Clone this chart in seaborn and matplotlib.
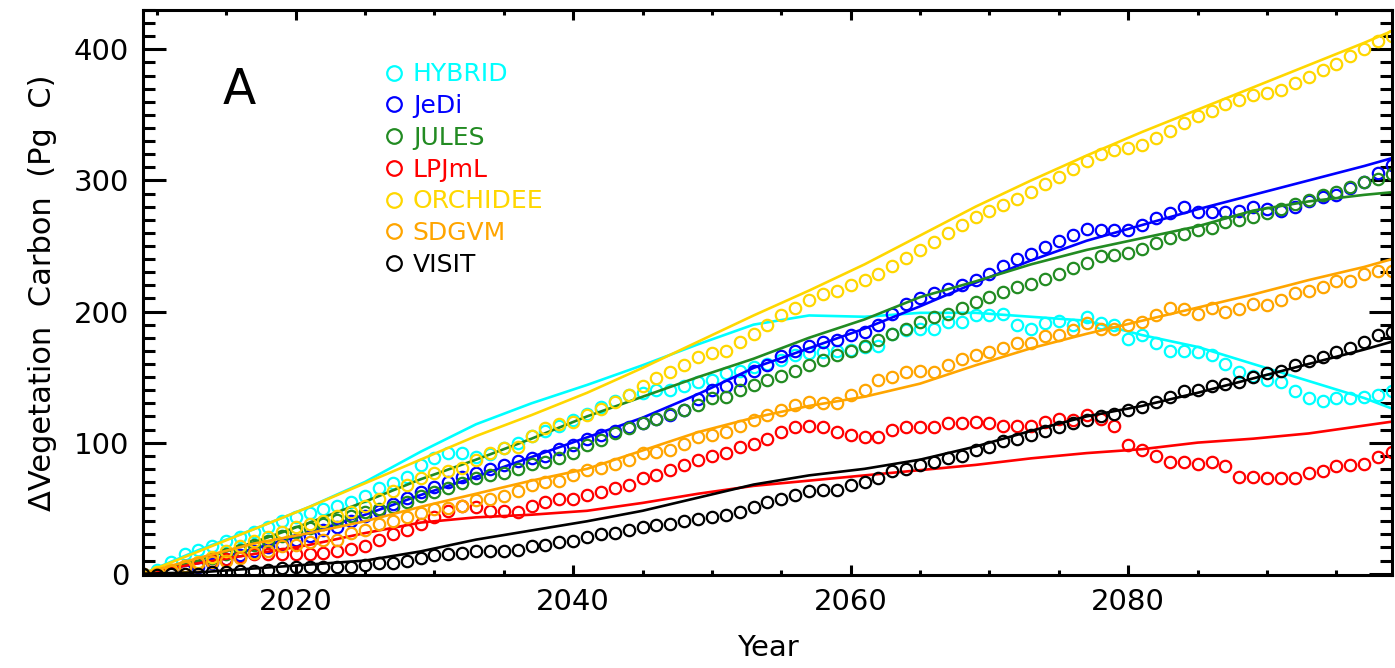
import numpy as np
import pandas as pd
import matplotlib
matplotlib.use("Agg")
import matplotlib.pyplot as plt
from matplotlib.lines import Line2D
from matplotlib.ticker import MultipleLocator
import seaborn as sns

# ---------------- data ----------------
years = list(range(2009, 2100))
line_years = [2009, 2013, 2017, 2021, 2025, 2029, 2033, 2037, 2041, 2045, 2049,
              2053, 2057, 2061, 2065, 2069, 2073, 2077, 2081, 2085, 2089, 2093,
              2097, 2099]

models = ["HYBRID", "JeDi", "JULES", "LPJmL", "ORCHIDEE", "SDGVM", "VISIT"]
colors = ["#00FFFF", "#0000FF", "#228B22", "#FF0000", "#FFD700", "#FFA500", "#000000"]

hybrid_pts = [0, 3, 9, 15, 18, 21, 25, 28, 32, 36, 40,
              43, 46, 49, 52, 55, 59, 65, 69, 74, 83,
              88, 92, 92, 89, 91, 96, 100, 105, 109, 113,
              117, 122, 127, 132, 136, 138, 140, 140, 143, 146,
              148, 153, 155, 158, 160, 163, 167, 168, 169, 170,
              171, 173, 174, 183, 186, 187, 187, 192, 192, 197,
              197, 198, 190, 187, 191, 193, 190, 196, 191, 190,
              179, 182, 176, 170, 170, 169, 167, 160, 154, 151,
              148, 146, 139, 134, 132, 134, 134, 135, 136, 139]
jedi_pts = [0, 0, 1, 3, 5, 8, 11, 14, 17, 20, 23,
            26, 29, 33, 36, 40, 44, 48, 53, 58, 62,
            66, 70, 74, 77, 80, 83, 86, 88, 90, 95,
            98, 103, 106, 109, 112, 115, 118, 121, 125, 133,
            140, 143, 148, 155, 159, 166, 170, 174, 177, 178,
            182, 184, 190, 198, 206, 210, 214, 217, 220, 224,
            229, 235, 240, 244, 249, 254, 258, 263, 262, 262,
            262, 266, 271, 275, 280, 276, 276, 276, 277, 280,
            278, 277, 280, 284, 287, 289, 294, 299, 306, 312]
jules_pts = [0, 0, 2, 5, 8, 12, 15, 18, 22, 25, 29,
             32, 35, 38, 41, 44, 47, 49, 51, 55, 59,
             62, 65, 69, 73, 75, 77, 80, 84, 85, 88,
             92, 98, 102, 107, 111, 115, 118, 122, 125, 129,
             134, 135, 140, 144, 148, 151, 155, 159, 163, 167,
             170, 174, 178, 183, 187, 192, 196, 198, 203, 207,
             211, 215, 219, 221, 225, 229, 233, 237, 242, 243,
             245, 248, 252, 256, 259, 262, 264, 268, 270, 272,
             275, 278, 282, 285, 289, 291, 295, 299, 301, 305]
lpjml_pts = [0, 0, 3, 6, 8, 10, 11, 13, 15, 15, 15,
             15, 15, 16, 17, 19, 21, 26, 30, 33, 38,
             43, 48, 52, 51, 48, 48, 47, 52, 55, 57,
             57, 60, 62, 65, 68, 73, 75, 79, 83, 87,
             90, 92, 97, 99, 103, 108, 112, 113, 112, 108,
             106, 104, 104, 110, 112, 112, 112, 115, 115, 116,
             115, 113, 113, 113, 116, 118, 117, 121, 118, 113,
             98, 94, 90, 85, 85, 84, 85, 82, 74, 74,
             73, 73, 73, 77, 78, 82, 83, 84, 89, 93]
orchidee_pts = [0, 1, 3, 6, 9, 13, 17, 21, 25, 28, 32,
                36, 38, 40, 44, 47, 52, 57, 63, 68, 73,
                77, 78, 81, 87, 92, 96, 97, 105, 111, 114,
                116, 121, 126, 131, 136, 143, 149, 154, 159, 165,
                168, 170, 177, 183, 190, 197, 203, 209, 213, 216,
                220, 224, 229, 235, 241, 247, 253, 260, 266, 272,
                277, 281, 286, 291, 297, 303, 309, 315, 320, 323,
                325, 327, 332, 338, 344, 349, 353, 358, 361, 365,
                367, 369, 374, 379, 384, 389, 395, 400, 406, 410]
sdgvm_pts = [0, 0, 2, 5, 8, 9, 10, 12, 16, 17, 21,
             22, 24, 26, 26, 31, 33, 38, 40, 43, 46,
             49, 50, 52, 56, 57, 59, 63, 68, 70, 71,
             75, 79, 81, 84, 87, 92, 93, 94, 99, 104,
             106, 108, 113, 117, 121, 125, 129, 131, 130, 130,
             136, 140, 148, 150, 154, 155, 154, 159, 164, 167,
             169, 172, 176, 176, 181, 182, 186, 191, 187, 187,
             190, 192, 197, 203, 202, 198, 203, 200, 202, 206,
             205, 209, 214, 216, 219, 223, 223, 229, 231, 231]
visit_pts = [0, -1, 0, 0, 0, 1, 1, 2, 2, 3, 4,
             5, 5, 5, 5, 5, 7, 8, 8, 10, 12,
             14, 15, 16, 17, 17, 17, 18, 21, 22, 24,
             25, 28, 30, 31, 33, 36, 37, 38, 40, 42,
             43, 45, 47, 51, 55, 57, 60, 63, 64, 64,
             68, 70, 73, 78, 80, 83, 85, 88, 90, 94,
             97, 101, 103, 106, 109, 112, 115, 117, 120, 122,
             125, 127, 131, 135, 139, 140, 143, 145, 146, 150,
             153, 155, 159, 162, 165, 169, 172, 177, 182, 184]

hybrid_line = [0, 18, 34, 51, 70, 93, 114, 130, 144, 159, 175, 190, 197, 196,
               199, 199, 196, 193, 182, 173, 160, 147, 134, 126]
jedi_line = [0, 8, 19, 31, 45, 60, 74, 89, 104, 119, 137, 157, 172, 187,
             204, 222, 239, 254, 266, 278, 289, 300, 311, 317]
jules_line = [0, 10, 24, 39, 55, 72, 87, 103, 120, 135, 150, 164, 180, 194,
              211, 223, 236, 247, 256, 265, 277, 284, 289, 291]
lpjml_line = [0, 8, 15, 22, 31, 39, 43, 45, 48, 54, 61, 67, 71, 75,
              79, 83, 88, 92, 95, 100, 103, 107, 113, 116]
orchidee_line = [0, 17, 34, 51, 69, 87, 105, 121, 138, 157, 177, 197, 216, 236,
                 258, 280, 300, 319, 337, 354, 371, 388, 405, 414]
sdgvm_line = [0, 12, 23, 31, 40, 51, 61, 71, 80, 94, 108, 119, 128, 135,
              145, 159, 172, 183, 193, 203, 213, 224, 234, 240]
visit_line = [0, 1, 4, 7, 10, 17, 26, 33, 40, 48, 58, 68, 75, 80,
              87, 97, 109, 120, 128, 138, 149, 160, 171, 177]

pts = [hybrid_pts, jedi_pts, jules_pts, lpjml_pts, orchidee_pts, sdgvm_pts, visit_pts]
lines = [hybrid_line, jedi_line, jules_line, lpjml_line, orchidee_line, sdgvm_line, visit_line]

df_pts = pd.concat([pd.DataFrame({"Year": years, "val": p, "model": m})
                    for m, p in zip(models, pts)], ignore_index=True)
df_line = pd.concat([pd.DataFrame({"Year": line_years, "val": l, "model": m})
                     for m, l in zip(models, lines)], ignore_index=True)

# ---------------- style ----------------
sns.set_theme(style="ticks")
plt.rcParams["font.family"] = ["DejaVu Sans"]
plt.rcParams["font.weight"] = "normal"
plt.rcParams["axes.linewidth"] = 2.2
plt.rcParams["text.color"] = "black"
plt.rcParams["axes.labelcolor"] = "black"

fig = plt.figure(figsize=(13.95, 6.68), dpi=100)
ax = fig.add_axes([0.1025, 0.1392, 0.8953, 0.8458])

for m, c in zip(models, colors):
    sub_p = df_pts[df_pts["model"] == m]
    sns.lineplot(data=sub_p, x="Year", y="val", ax=ax, linestyle="none",
                 marker="o", markersize=8.2, markerfacecolor="none",
                 markeredgecolor=c, markeredgewidth=1.6, estimator=None,
                 sort=False, legend=False)
    sub_l = df_line[df_line["model"] == m]
    sns.lineplot(data=sub_l, x="Year", y="val", ax=ax, color=c, linewidth=1.9,
                 estimator=None, sort=False, legend=False)

ax.set_xlim(2009, 2099)
ax.set_ylim(-1, 430)
ax.xaxis.set_major_locator(MultipleLocator(20))
ax.xaxis.set_minor_locator(MultipleLocator(5))
ax.yaxis.set_major_locator(MultipleLocator(100))
ax.yaxis.set_minor_locator(MultipleLocator(10))
ax.tick_params(which="both", direction="in", top=True, right=True,
               width=2.2, color="black", labelcolor="black", labelsize=21)
ax.tick_params(axis="x", which="major", length=7.5, pad=9)
ax.tick_params(axis="x", which="minor", length=3.8)
ax.tick_params(axis="y", which="major", length=16.5, pad=10)
ax.tick_params(axis="y", which="minor", length=8.6)
for s in ax.spines.values():
    s.set_color("black")

ax.set_xlabel("Year", fontsize=21, labelpad=13)
ax.set_ylabel("ΔVegetation  Carbon  (Pg  C)", fontsize=22, labelpad=12)

ax.text(0.077, 0.858, "A", transform=ax.transAxes, fontsize=35,
        ha="center", va="center", color="black")

handles = [Line2D([], [], linestyle="none", marker="o", markersize=10.5,
                  markerfacecolor="none", markeredgecolor=c, markeredgewidth=1.6)
           for c in colors]
leg = ax.legend(handles, models, loc="upper left", bbox_to_anchor=(0.182, 0.925),
                frameon=False, fontsize=18, handletextpad=0.2, handlelength=1.1,
                labelspacing=0.31, borderaxespad=0)
for t, c in zip(leg.get_texts(), colors):
    t.set_color(c)

fig.savefig("out.png", dpi=100)
